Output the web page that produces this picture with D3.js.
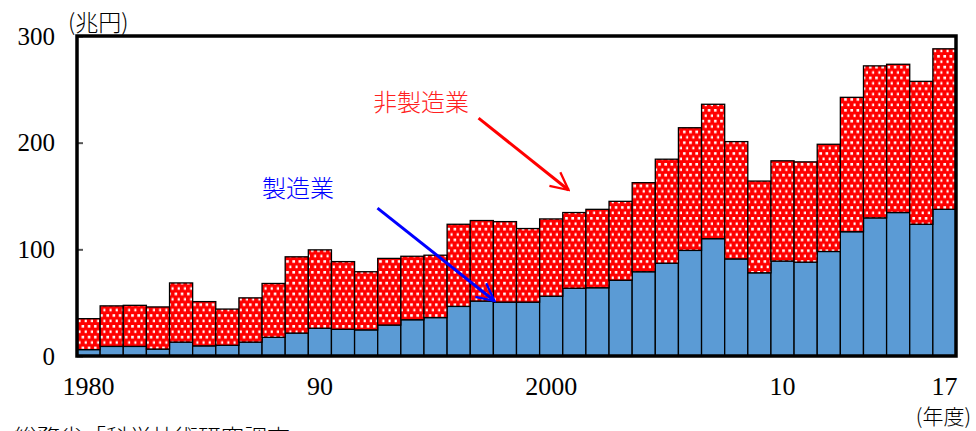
<!DOCTYPE html>
<html>
<head>
<meta charset="utf-8">
<script src="https://cdn.jsdelivr.net/npm/d3@7"></script>
<style>
	body { margin: 0; background: #ffffff; }
	svg { display: block; }
	.num { font-family: 'Liberation Serif', 'DejaVu Serif', serif; fill: #000000; }
	.jp { font-family: 'Noto Sans CJK JP', sans-serif; }
</style>
</head>
<body>
<svg id="chart" width="976" height="431"></svg>
<script>

// fiscal years 1980-2017
var aYears = d3.range(1980, 2018);

// 製造業 (trillion yen)
var aManufacturing = [6, 9, 9, 6.5, 13, 9.5, 10, 13, 17.5, 21.5,
	26, 25, 24.5, 29, 34, 36, 46.5, 51.5, 50.5, 50.5,
	56, 63.5, 64, 71, 79, 87, 99, 110, 91, 78,
	89, 88, 98, 116.5, 129.5, 134.5, 123.5, 137.5];

// 非製造業 (trillion yen)
var aNonManufacturing = [29, 38, 38.5, 39.5, 55.5, 41.5, 34, 41.5, 50.5, 71.5,
	73.5, 63.5, 54.5, 62.5, 59.5, 58.5, 77, 75.5, 75.5, 69,
	72.5, 71, 73.5, 74, 83.5, 97.5, 115, 126, 110, 86,
	94, 94, 100.5, 126, 142.5, 139, 134, 150.5];

var aYTicks = [0, 100, 200, 300];
var aXTickYears = [1980, 1990, 2000, 2010, 2017];
var aXTickLabels = ['1980', '90', '2000', '10', '17'];

// annotations: [year position, value]
var aNonMfgLabel = [1992.8, 230];
var aNonMfgArrow = [[1997.36, 223], [2001.25, 155.6]];
var aMfgLabel = [1988.0, 149];
var aMfgArrow = [[1992.99, 138.7], [1998.05, 51.6]];

function DrawChart(vSelector)
{
	var sSvg = d3.select(vSelector);

	var nBorderLeft = 77;
	var nBorderTop = 36;
	var nBorderRight = 956;
	var nBorderBottom = 356;

	var scaleX = d3.scaleBand()
		.domain(aYears)
		.range([nBorderLeft, nBorderRight])
		.padding(0);

	var scaleXLin = d3.scaleLinear()
		.domain([1980, 2018])
		.range([nBorderLeft, nBorderRight]);

	var scaleY = d3.scaleLinear()
		.domain([0, 300])
		.range([nBorderBottom, nBorderTop]);

	// dotted red fill
	var sDefs = sSvg.append('defs');
	var sPattern = sDefs.append('pattern')
		.attr('id', 'dots')
		.attr('patternUnits', 'userSpaceOnUse')
		.attr('width', 6.2)
		.attr('height', 10.8);
	sPattern.append('rect')
		.attr('width', 6.2).attr('height', 10.8)
		.attr('fill', '#ff0000');
	sPattern.append('rect')
		.attr('x', 1).attr('y', 1).attr('width', 2.6).attr('height', 2.6)
		.attr('fill', '#ffffff');
	sPattern.append('rect')
		.attr('x', 4.1).attr('y', 6.4).attr('width', 2.6).attr('height', 2.6)
		.attr('fill', '#ffffff');

	['red', 'blue'].forEach(function(strColor)
	{
		sDefs.append('marker')
			.attr('id', 'head-' + strColor)
			.attr('viewBox', '0 0 12 12')
			.attr('refX', 11)
			.attr('refY', 6)
			.attr('markerWidth', 7)
			.attr('markerHeight', 7)
			.attr('markerUnits', 'strokeWidth')
			.attr('orient', 'auto')
			.append('path')
				.attr('d', 'M1,1 L11,6 L1,11')
				.attr('fill', 'none')
				.attr('stroke', strColor == 'red' ? '#ff0000' : '#0000ff')
				.attr('stroke-width', 1.3);
	});

	// bars
	var sBars = sSvg.append('g');
	sBars.selectAll('.mfg')
		.data(aYears)
		.enter()
		.append('rect')
			.attr('class', 'mfg')
			.attr('x', function(nYear) { return scaleX(nYear); })
			.attr('width', scaleX.bandwidth())
			.attr('y', function(nYear, i) { return scaleY(aManufacturing[i]); })
			.attr('height', function(nYear, i) { return scaleY(0) - scaleY(aManufacturing[i]); })
			.attr('fill', '#5b9bd5')
			.attr('stroke', '#000000')
			.attr('stroke-width', 1.3);

	sBars.selectAll('.nonmfg')
		.data(aYears)
		.enter()
		.append('rect')
			.attr('class', 'nonmfg')
			.attr('x', function(nYear) { return scaleX(nYear); })
			.attr('width', scaleX.bandwidth())
			.attr('y', function(nYear, i) { return scaleY(aManufacturing[i] + aNonManufacturing[i]); })
			.attr('height', function(nYear, i) { return scaleY(aManufacturing[i]) - scaleY(aManufacturing[i] + aNonManufacturing[i]); })
			.attr('fill', 'url(#dots)')
			.attr('stroke', '#000000')
			.attr('stroke-width', 1.3);

	// y axis, ticks pointing inward
	var axisY = d3.axisLeft(scaleY)
		.tickValues(aYTicks)
		.tickSizeInner(-6)
		.tickSizeOuter(0)
		.tickPadding(22);
	var sAxisY = sSvg.append('g')
		.attr('transform', 'translate(' + nBorderLeft + ',0)')
		.call(axisY);
	sAxisY.select('.domain').remove();
	sAxisY.selectAll('line').attr('stroke', '#555555').attr('stroke-width', 2);
	sAxisY.selectAll('text')
		.attr('class', 'num')
		.style('font-size', '25px');

	// x axis
	var axisX = d3.axisBottom(scaleX)
		.tickValues(aXTickYears)
		.tickSize(0)
		.tickPadding(21)
		.tickFormat(function(nYear)
		{
			return aXTickLabels[aXTickYears.indexOf(nYear)];
		});
	var sAxisX = sSvg.append('g')
		.attr('transform', 'translate(0,' + nBorderBottom + ')')
		.call(axisX);
	sAxisX.select('.domain').remove();
	sAxisX.selectAll('text')
		.attr('class', 'num')
		.style('font-size', '26px');

	// frame
	sSvg.append('rect')
		.attr('x', nBorderLeft)
		.attr('y', nBorderTop)
		.attr('width', nBorderRight - nBorderLeft)
		.attr('height', nBorderBottom - nBorderTop)
		.attr('fill', 'none')
		.attr('stroke', '#000000')
		.attr('stroke-width', 3.5);

	// arrows and labels
	sSvg.append('line')
		.attr('x1', scaleXLin(aNonMfgArrow[0][0])).attr('y1', scaleY(aNonMfgArrow[0][1]))
		.attr('x2', scaleXLin(aNonMfgArrow[1][0])).attr('y2', scaleY(aNonMfgArrow[1][1]))
		.attr('stroke', '#ff0000')
		.attr('stroke-width', 3)
		.attr('marker-end', 'url(#head-red)');

	sSvg.append('line')
		.attr('x1', scaleXLin(aMfgArrow[0][0])).attr('y1', scaleY(aMfgArrow[0][1]))
		.attr('x2', scaleXLin(aMfgArrow[1][0])).attr('y2', scaleY(aMfgArrow[1][1]))
		.attr('stroke', '#0000ff')
		.attr('stroke-width', 3)
		.attr('marker-end', 'url(#head-blue)');

	sSvg.append('text')
		.attr('class', 'jp')
		.attr('x', scaleXLin(aNonMfgLabel[0]))
		.attr('y', scaleY(aNonMfgLabel[1]))
		.attr('fill', '#ff2020')
		.style('font-size', '24px')
		.style('font-weight', 300)
		.text('非製造業');

	sSvg.append('text')
		.attr('class', 'jp')
		.attr('x', scaleXLin(aMfgLabel[0]))
		.attr('y', scaleY(aMfgLabel[1]))
		.attr('fill', '#0000ff')
		.style('font-size', '24px')
		.style('font-weight', 300)
		.text('製造業');

	// unit labels and source
	sSvg.append('text')
		.attr('class', 'jp')
		.attr('x', 68)
		.attr('y', 31)
		.style('font-size', '23px')
		.style('font-weight', 300)
		.text('(兆円)');

	sSvg.append('text')
		.attr('class', 'jp')
		.attr('x', 971)
		.attr('y', 424)
		.attr('text-anchor', 'end')
		.style('font-size', '21px')
		.style('font-weight', 300)
		.text('(年度)');

	sSvg.append('text')
		.attr('class', 'jp')
		.attr('x', 14)
		.attr('y', 446)
		.style('font-size', '23px')
		.style('font-weight', 300)
		.text('総務省「科学技術研究調査」');
}

DrawChart('#chart');

</script>
</body>
</html>
